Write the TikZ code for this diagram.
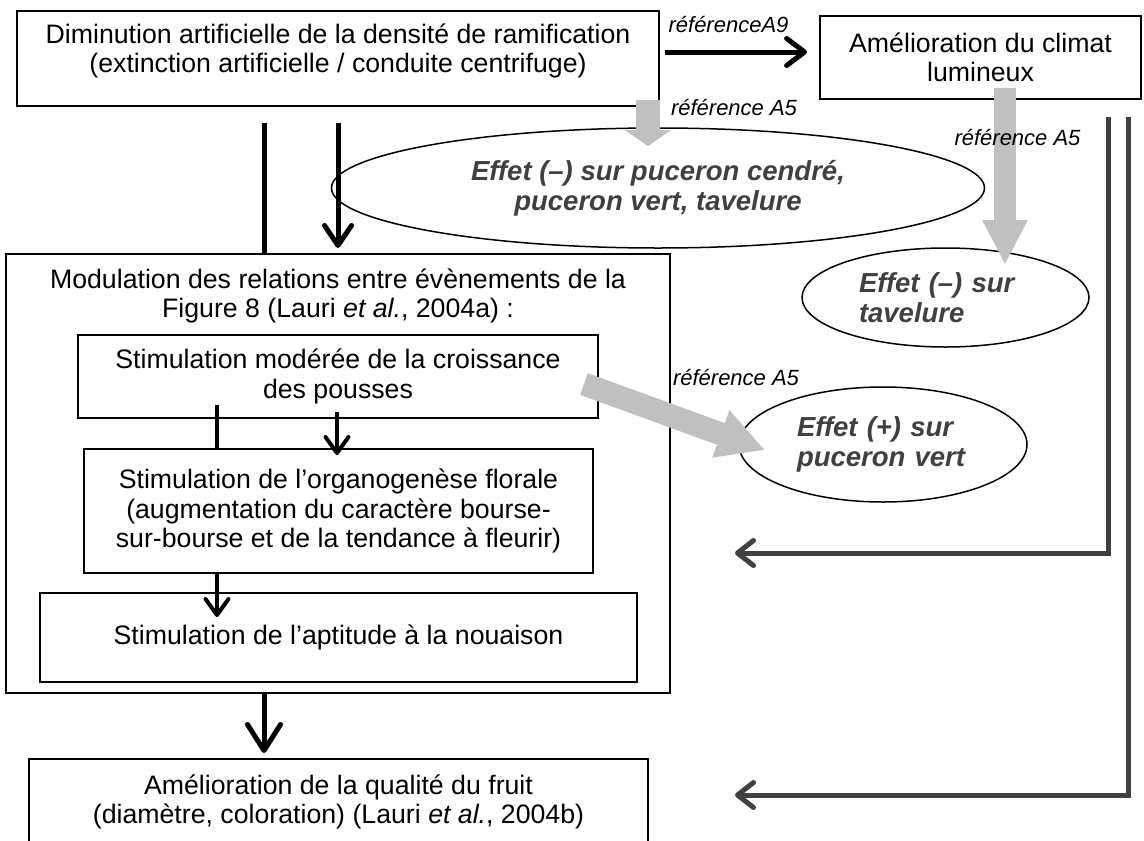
\documentclass[tikz,border=0pt]{standalone}
\usepackage{fontspec}
\setmainfont{Liberation Sans}
\usetikzlibrary{arrows.meta,shapes.geometric,positioning,calc}
\definecolor{pale}{HTML}{C0C0C0}
\definecolor{dark}{HTML}{404040}

\begin{document}
\begin{tikzpicture}[x=1pt,y=-1pt,
    box/.style={draw,line width=1.8pt,inner sep=0pt,align=center,font=\fontsize{26.7}{29.5}\selectfont},
    txt/.style={inner sep=0pt,align=center,font=\fontsize{26.7}{28.5}\selectfont},
    effet/.style={ellipse,draw,line width=1.5pt,inner sep=0pt,text=dark,font=\fontsize{27.5}{30}\selectfont\bfseries\itshape},
    ref/.style={inner sep=0pt,font=\fontsize{22}{24}\selectfont\itshape},
    stem/.style={line width=5pt},
    barb/.style={-{Straight Barb[round,length=#1,width=27pt]}},
    thin/.style={line width=4pt},
    back/.style={draw=dark,line width=5pt,-{Straight Barb[round,length=16pt,width=25pt]}},
    refarrow/.style={pale,line cap=butt}]
\useasboundingbox (0,0) rectangle (1144,841);

% boxes
\node[box,minimum width=642pt,minimum height=95pt] (dim) at (338,58.5) {};
\node[txt] (dimtxt) at (338,51) {Diminution artificielle de la densité de ramification\\(extinction artificielle / conduite centrifuge)};
\node[box,minimum width=321pt,minimum height=83pt] (clim) at (980.5,57.5) {Amélioration du climat\\lumineux};
\node[box,minimum width=664pt,minimum height=439pt] (modul) at (338,473.5) {};
\node[txt] (modtxt) at (338,296) {Modulation des relations entre évènements de la\\Figure 8 (Lauri \textit{et al.}, 2004a) :};
\node[box,minimum width=520pt,minimum height=83pt] (pous) at (338,376.5) {Stimulation modérée de la croissance\\des pousses};
\node[box,minimum width=509pt,minimum height=124pt] (flor) at (338.5,511) {Stimulation de l’organogenèse florale\\(augmentation du caractère bourse-\\sur-bourse et de la tendance à fleurir)};
\node[box,minimum width=597pt,minimum height=89pt] (noua) at (338.5,637.5) {Stimulation de l’aptitude à la nouaison};
\node[box,minimum width=619pt,minimum height=86pt] (qual) at (338.5,802) {Amélioration de la qualité du fruit\\(diamètre, coloration) (Lauri \textit{et al.}, 2004b)};

% effects
\node[effet,minimum width=653pt,minimum height=120pt,align=center] (effA) at (658,188) {Effet (–) sur puceron cendré,\\puceron vert, tavelure};
\node[effet,minimum width=287pt,minimum height=99pt,text width=173pt,align=left] (effB) at (945.5,297.5) {Effet (–) sur\\tavelure};
\node[effet,minimum width=288pt,minimum height=115pt,text width=172pt,align=left] (effC) at (883,444.5) {Effet (+) sur\\puceron vert};

% free ends
\coordinate (a9) at (665,52);
\coordinate (s1) at (264,123);
\coordinate (s2) at (338,123);
\coordinate (s2t) at (338,248);
\coordinate (p1) at (217,405);
\coordinate (p2) at (337,412);
\coordinate (p2t) at (337,455);
\coordinate (f1t) at (217,617);
\coordinate (q1t) at (264,753);
\coordinate (r1) at (1108,117);
\coordinate (r2) at (1128,117);
\coordinate (e1) at (735,553);
\coordinate (e2) at (735,795);
\coordinate (g1) at (648,100);
\coordinate (g1t) at (648,146);
\coordinate (g2) at (1005,88);
\coordinate (g2t) at (1005,265);
\coordinate (g3) at (584,384);
\coordinate (g3t) at (765,450);

% black links
\draw[stem,barb=18pt] (a9) -- ([xshift=-12pt]a9 -| clim.west);
\draw[stem] (s1) -- (s1 |- modul.north);
\draw[stem,barb=20pt] (s2) -- (s2t);
\draw[thin] (p1) -- (p1 |- flor.north);
\draw[thin,-{Straight Barb[round,length=16pt,width=23pt]}] (p2) -- (p2t);
\draw[thin,-{Straight Barb[round,length=16pt,width=23pt]}] (p1 |- flor.south) -- (f1t);
\draw[stem,-{Straight Barb[round,length=26pt,width=33pt]}] (s1 |- modul.south) -- (q1t);

% light climate links
\draw[back] (r1) |- (e1);
\draw[back] (r2) |- (e2);

% grey reference arrows
\draw[refarrow,line width=24pt,-{Triangle[length=16pt,width=46pt]}] (g1) -- (g1t);
\draw[refarrow,line width=22pt,-{Triangle[length=45pt,width=42pt]}] (g2) -- (g2t);
\draw[refarrow,line width=23pt,-{Triangle[length=47pt,width=47pt]}] (g3) -- (g3t);

% references
\node[ref] (lblA9) at (728.5,25) {référenceA9};
\node[ref] (lblA5a) at (734,108) {référence A5};
\node[ref] (lblA5b) at (1017.5,138) {référence A5};
\node[ref] (lblA5c) at (736,378) {référence A5};
\end{tikzpicture}
\end{document}
